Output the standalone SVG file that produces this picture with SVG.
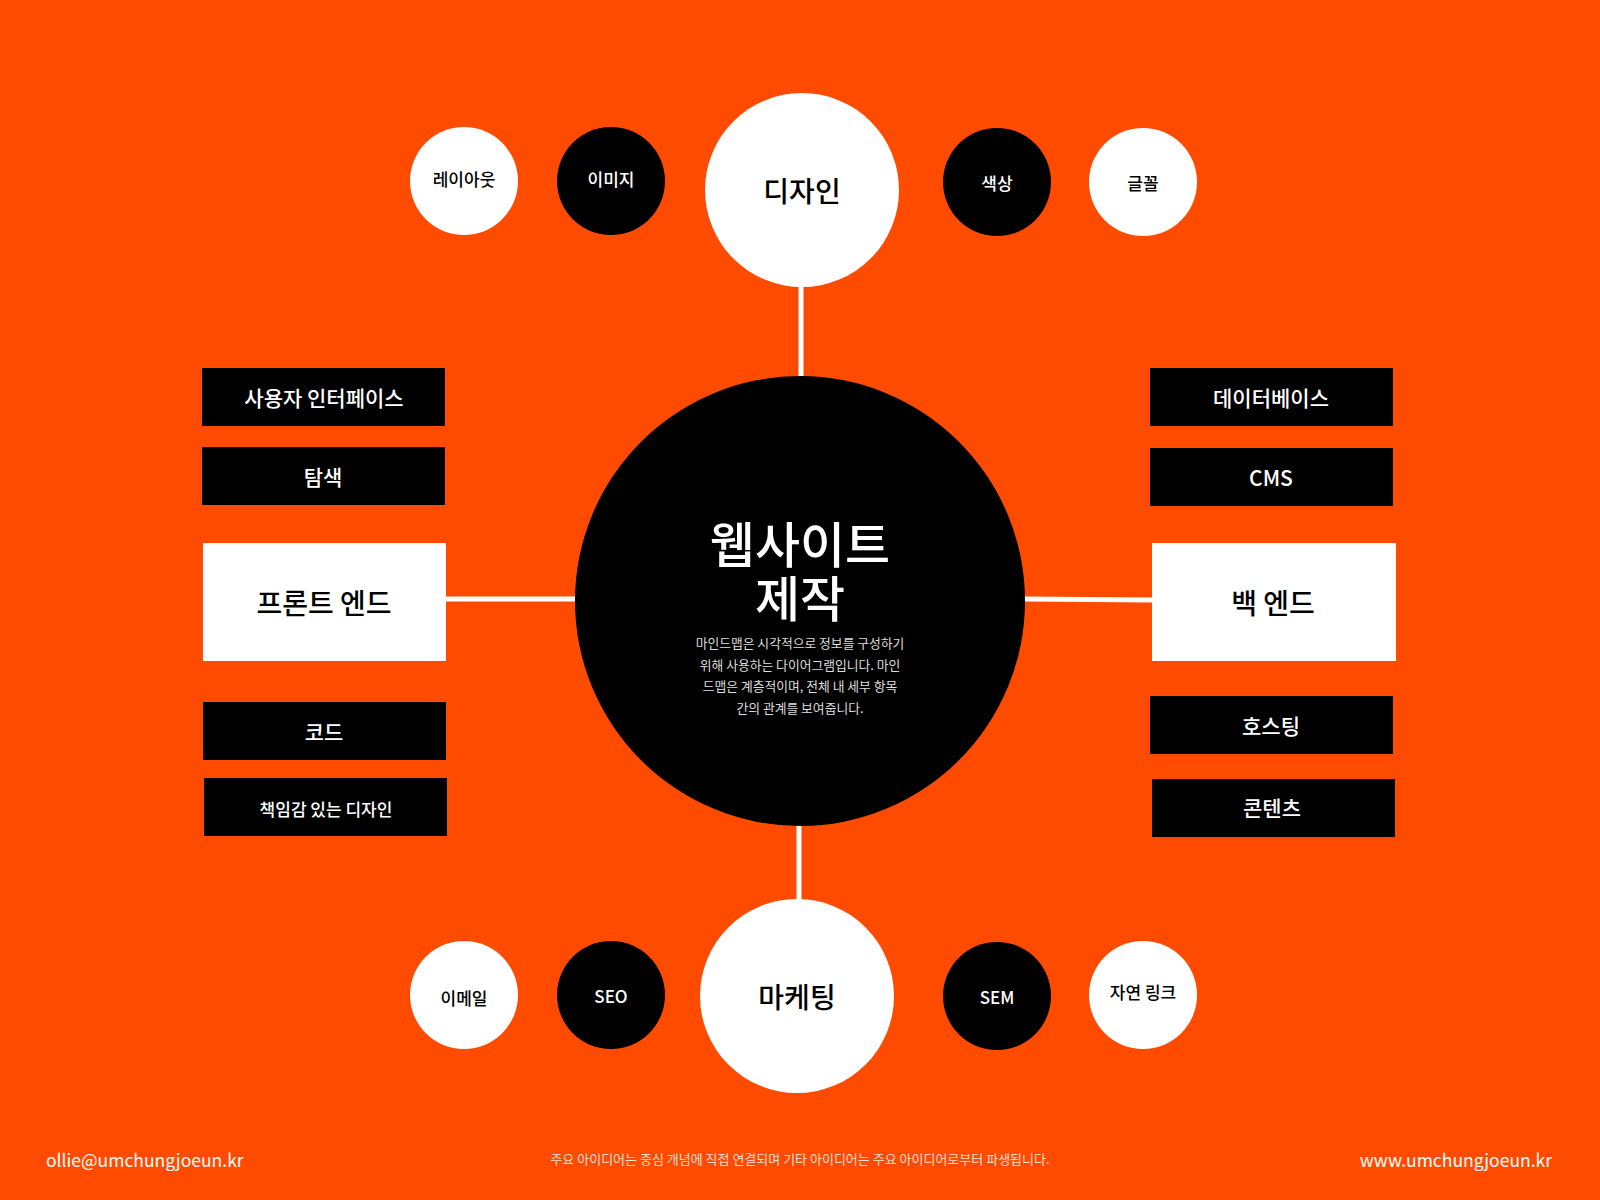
<svg xmlns="http://www.w3.org/2000/svg" width="1600" height="1200" viewBox="0 0 1600 1200">
<style>
text{font-family:"Noto Sans CJK KR","Noto Sans",sans-serif;text-anchor:middle;dominant-baseline:central}
.w{fill:#ffffff}
.b{fill:#000000}
.tw{fill:#ffffff}
.tb{fill:#000000}
.small{font-size:17px;font-weight:500}
.box{font-size:21px;font-weight:500}
.main{font-size:28px;font-weight:500}
.desc{font-size:12.8px;fill:#dddddd}
.conn{stroke:#ffffff;stroke-width:5;fill:none}
</style>
<rect x="0" y="0" width="1600" height="1200" fill="#FF4B00"/>
<g id="connectors">
<line class="conn" x1="801" y1="286" x2="801" y2="378"/>
<line class="conn" x1="799" y1="824" x2="799" y2="902"/>
<line class="conn" x1="446" y1="599" x2="577" y2="599"/>
<line class="conn" x1="1023" y1="599" x2="1152" y2="600"/>
</g>
<g id="center">
<circle class="b" cx="800" cy="601" r="225"/>
<text class="tw" x="800" y="541" style="font-size:49px;font-weight:500"><tspan x="800" y="541">웹사이트</tspan><tspan x="800" y="595">제작</tspan></text>
<text class="desc" x="800" y="642">마인드맵은 시각적으로 정보를 구성하기</text>
<text class="desc" x="800" y="664">위해 사용하는 다이어그램입니다. 마인</text>
<text class="desc" x="800" y="685">드맵은 계층적이며, 전체 내 세부 항목</text>
<text class="desc" x="800" y="707">간의 관계를 보여줍니다.</text>
</g>
<g id="design">
<circle class="w" cx="802" cy="190" r="97"/>
<text class="tb main" x="802" y="190">디자인</text>
</g>
<g id="layout"><circle class="w" cx="464" cy="181" r="54"/><text class="tb small" x="464" y="178">레이아웃</text></g>
<g id="image"><circle class="b" cx="611" cy="181" r="54"/><text class="tw small" x="611" y="178">이미지</text></g>
<g id="color"><circle class="b" cx="997" cy="182" r="54"/><text class="tw small" x="997" y="182">색상</text></g>
<g id="font"><circle class="w" cx="1143" cy="182" r="54"/><text class="tb small" x="1143" y="182">글꼴</text></g>
<g id="marketing">
<circle class="w" cx="797" cy="996" r="97"/>
<text class="tb main" x="797" y="996">마케팅</text>
</g>
<g id="email"><circle class="w" cx="464" cy="995" r="54"/><text class="tb small" x="464" y="997">이메일</text></g>
<g id="seo"><circle class="b" cx="611" cy="995" r="54"/><text class="tw small" x="611" y="995">SEO</text></g>
<g id="sem"><circle class="b" cx="997" cy="996" r="54"/><text class="tw small" x="997" y="996">SEM</text></g>
<g id="organic"><circle class="w" cx="1143" cy="995" r="54"/><text class="tb small" x="1143" y="991">자연 링크</text></g>
<g id="frontend"><rect class="w" x="203" y="543" width="243" height="118"/><text class="tb main" x="324" y="602">프론트 엔드</text></g>
<g id="ui"><rect class="b" x="202" y="368" width="243" height="58"/><text class="tw box" x="324" y="397">사용자 인터페이스</text></g>
<g id="nav"><rect class="b" x="202" y="447" width="243" height="58"/><text class="tw box" x="323" y="476">탐색</text></g>
<g id="code"><rect class="b" x="203" y="702" width="243" height="58"/><text class="tw box" x="324" y="731">코드</text></g>
<g id="responsive"><rect class="b" x="204" y="778" width="243" height="58"/><text class="tw" x="326" y="808" style="font-size:17px;font-weight:500">책임감 있는 디자인</text></g>
<g id="backend"><rect class="w" x="1152" y="543" width="244" height="118"/><text class="tb main" x="1273" y="602">백 엔드</text></g>
<g id="db"><rect class="b" x="1150" y="368" width="243" height="58"/><text class="tw box" x="1271" y="397">데이터베이스</text></g>
<g id="cms"><rect class="b" x="1150" y="448" width="243" height="58"/><text class="tw box" x="1271" y="477">CMS</text></g>
<g id="hosting"><rect class="b" x="1150" y="696" width="243" height="58"/><text class="tw box" x="1271" y="725">호스팅</text></g>
<g id="content"><rect class="b" x="1152" y="779" width="243" height="58"/><text class="tw box" x="1272" y="807">콘텐츠</text></g>
<g id="footer">
<text x="46" y="1159" style="font-size:17.5px;fill:#ffffff;text-anchor:start">ollie@umchungjoeun.kr</text>
<text x="800" y="1158" style="font-size:13px;fill:#f5ddd0">주요 아이디어는 중심 개념에 직접 연결되며 기타 아이디어는 주요 아이디어로부터 파생됩니다.</text>
<text x="1552" y="1159" style="font-size:17.5px;fill:#ffffff;text-anchor:end">www.umchungjoeun.kr</text>
</g>
</svg>
